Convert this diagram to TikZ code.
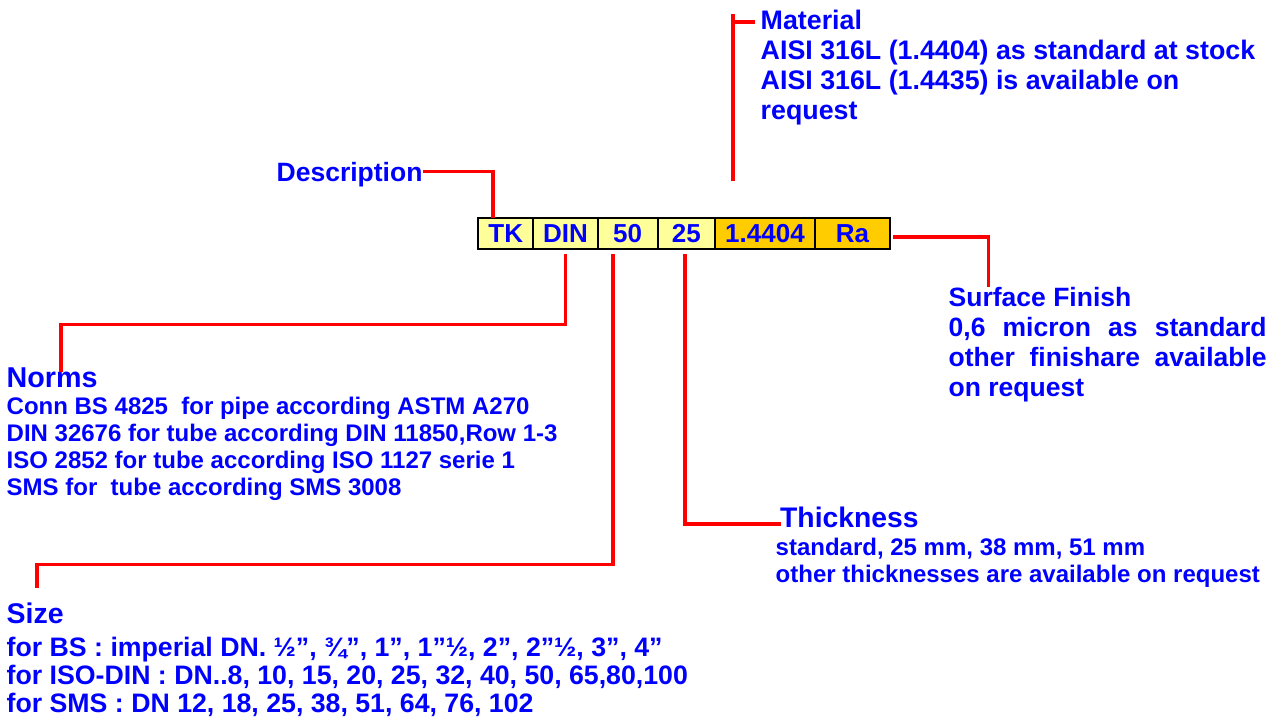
\documentclass[tikz,border=0pt]{standalone}
\usepackage{fontspec}
\setmainfont{Liberation Sans}
\definecolor{codeblue}{RGB}{0,0,255}
\definecolor{leadred}{RGB}{255,0,0}
\definecolor{paleyellow}{RGB}{255,255,153}
\definecolor{gold}{RGB}{255,204,0}

\begin{document}
\begin{tikzpicture}[
  x=1pt, y=-1pt, text=codeblue,
  field/.style={draw=black, line width=2.2pt, fill=#1, minimum height=31.6pt, inner sep=0pt, outer sep=0pt, font=\fontsize{26}{30}\selectfont\bfseries},
  head/.style={anchor=base west, inner sep=0pt, font=\fontsize{#1}{#1}\selectfont\bfseries},
  note/.style={anchor=base west, inner sep=0pt, align=left, font=\fontsize{26.5}{30}\selectfont\bfseries},
  smallnote/.style={note, font=\fontsize{24}{27}\selectfont\bfseries},
  lead/.style={leadred, line width=3.2pt}
]
\useasboundingbox (0,0) rectangle (1275,723);

%% Code fields
\node[field=paleyellow, minimum width=55pt] (tk) at (505.8,233.5) {TK};
\node[field=paleyellow, minimum width=64.4pt] (din) at (565.5,233.5) {DIN};
\node[field=paleyellow, minimum width=60pt] (d50) at (627.7,233.5) {50};
\node[field=paleyellow, minimum width=57.3pt] (d25) at (686.35,233.5) {25};
\node[field=gold, minimum width=100pt] (steel) at (765,233.5) {1.4404};
\node[field=gold, minimum width=75pt] (ra) at (852.5,233.5) {Ra};

%% Labels above (multi-line notes sit on their last baseline)
\node[head=26.5] (desc) at (276.5,181.5) {Description};
\node[note, font=\fontsize{26.8}{30}\selectfont\bfseries] (mat) at (760.5,119) {Material\\AISI 316L (1.4404) as standard at stock\\AISI 316L (1.4435) is available on\\request};

%% Surface finish
\node[note, text width=318pt, align=justify] (surf) at (948.5,306) {Surface Finish\\0,6 micron as standard\linebreak other finishare available\linebreak on request};

%% Norms
\node[head=28.7] (normsttl) at (6.5,387) {Norms};
\node[smallnote] (norms) at (6.5,495) {Conn BS 4825\ \ for pipe according ASTM A270\\DIN 32676 for tube according DIN 11850,Row 1-3\\ISO 2852 for tube according ISO 1127 serie 1\\SMS for\ \ tube according SMS 3008};

%% Thickness
\node[head=28.3] (thkttl) at (780,527) {Thickness};
\node[smallnote] (thk) at (775.5,582) {standard, 25 mm, 38 mm, 51 mm\\other thicknesses are available on request};

%% Size
\node[head=28.5] (sizettl) at (6.5,623) {Size};
\node[note, font=\fontsize{26.7}{28}\selectfont\bfseries] (size) at (6.5,712) {for BS : imperial DN. ½”, ¾”, 1”, 1”½, 2”, 2”½, 3”, 4”\\for ISO-DIN : DN..8, 10, 15, 20, 25, 32, 40, 50, 65,80,100\\for SMS : DN 12, 18, 25, 38, 51, 64, 76, 102};

%% Leaders
\coordinate (mattop) at (733,14);
\coordinate (surfend) at (988.7,287);
\coordinate (normsend) at (61,372);
\coordinate (sizeend) at (37,588);
\coordinate (thkend) at (781,524);
\draw[lead] ([yshift=3pt]desc.east) -| ([xshift=-12.8pt]tk.north);
\draw[lead] ([xshift=-32pt,yshift=37pt]steel.north) -- (mattop);
\draw[lead] ([yshift=-8pt]mattop) -- ++(22,0);
\draw[lead] ([xshift=3pt,yshift=-3.5pt]ra.east) -| (surfend);
\draw[lead] ([yshift=-4.5pt]din.south) -- ++(0,71) -| (normsend);
\draw[lead] ([xshift=-14.7pt,yshift=-4.5pt]d50.south) -- ++(0,311) -| (sizeend);
\draw[lead] ([xshift=-1.3pt,yshift=-4.5pt]d25.south) |- (thkend);
\end{tikzpicture}
\end{document}
